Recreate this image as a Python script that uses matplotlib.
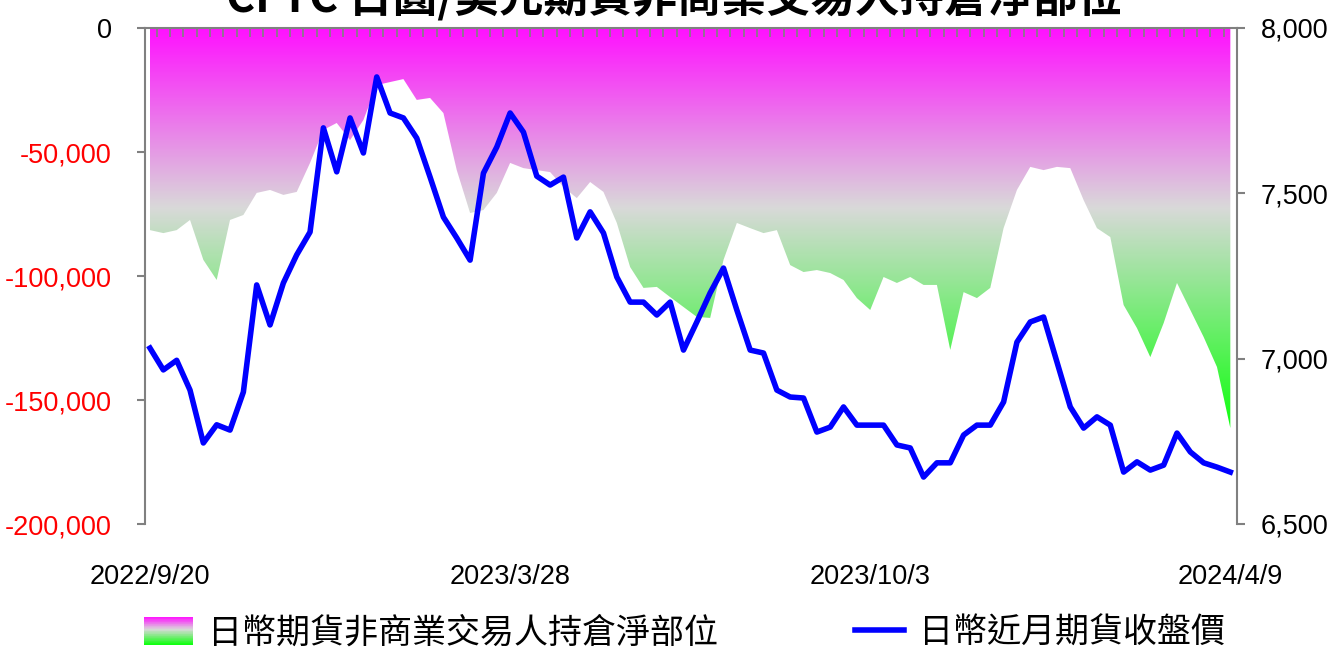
import numpy as np
import pandas as pd
import matplotlib
matplotlib.use("Agg")
import matplotlib.pyplot as plt
from matplotlib.colors import LinearSegmentedColormap
from matplotlib.lines import Line2D
from matplotlib.patches import Patch, Polygon, Rectangle
from matplotlib.legend_handler import HandlerBase

# weekly CFTC report dates, 2022/9/20 .. 2024/4/9
dates = pd.date_range("2022-09-20", periods=82, freq="7D")

# net non-commercial position (contracts)
net_position = [
    -81500, -82700, -81500, -77400, -93500, -101600, -77400, -75400, -66500, -65300,
    -67300, -66100, -54400, -41100, -38300, -45200, -37100, -23000, -21800, -20600,
    -29000, -28200, -34300, -57300, -74600, -73400, -66500, -54400, -56500, -57300,
    -58100, -64100, -68600, -62100, -66100, -78600, -96400, -104800, -104400, -108500,
    -112500, -116500, -116900, -93500, -78600, -80700, -82700, -81500, -95600, -98400,
    -97600, -98800, -101600, -108900, -113700, -100400, -102800, -100400, -103600, -103600,
    -129800, -106500, -108900, -104800, -80700, -65300, -56000, -57300, -56000, -56500,
    -69400, -80700, -84300, -111700, -121000, -132700, -119000, -102800, -113700, -124600,
    -136700, -161300,
]

# front-month yen futures close
price = [
    7032, 6966, 6995, 6905, 6745, 6800, 6784, 6899, 7223, 7102,
    7229, 7314, 7383, 7698, 7565, 7728, 7622, 7852, 7743, 7728,
    7667, 7549, 7428, 7365, 7298, 7561, 7640, 7743, 7685, 7552,
    7525, 7549, 7365, 7444, 7380, 7247, 7171, 7171, 7132, 7171,
    7026, 7111, 7199, 7274, 7147, 7026, 7017, 6905, 6884, 6881,
    6778, 6793, 6854, 6799, 6799, 6799, 6739, 6730, 6642, 6685,
    6685, 6769, 6799, 6799, 6869, 7050, 7111, 7126, 6990, 6854,
    6790, 6824, 6799, 6657, 6688, 6663, 6678, 6775, 6718, 6685,
    6672, 6657,
]

label_every = 27
left_ticks = [-200000, -150000, -100000, -50000, 0]
right_ticks = [6500, 7000, 7500, 8000]

TITLE = "CFTC 日圓/美元期貨非商業交易人持倉淨部位"
LEG_AREA = "日幣期貨非商業交易人持倉淨部位"
LEG_LINE = "日幣近月期貨收盤價"

CJK = ["Noto Sans CJK TC", "DejaVu Sans"]
NUM = ["Liberation Sans", "DejaVu Sans"]
NUM_SIZE = 19.5
GRAY = "#808080"

grad_cmap = LinearSegmentedColormap.from_list(
    "mag_green", [(0.0, "#FF10FF"), (0.45, "#D9D9D9"), (1.0, "#10FF10")]
)


class GradientPatchHandler(HandlerBase):
    def create_artists(self, legend, orig_handle, xdescent, ydescent,
                       width, height, fontsize, trans):
        n = 40
        arts = []
        for k in range(n):
            y0 = -ydescent + height * (1 - (k + 1) / n)
            arts.append(Rectangle((-xdescent, y0), width, height / n * 1.05,
                                  facecolor=grad_cmap(k / (n - 1)),
                                  edgecolor="none", transform=trans))
        return arts


fig = plt.figure(figsize=(13.3, 6.56), dpi=100)
ax = fig.add_axes([145 / 1330, 1 - 524 / 656, (1237 - 145) / 1330, (524 - 28) / 656])

x = np.arange(len(net_position))
net = np.array(net_position, dtype=float)

# gradient area clipped to the position polygon
verts = [(x[0], 0)] + list(zip(x, net)) + [(x[-1], 0)]
poly = Polygon(verts, closed=True, facecolor="none", edgecolor="none",
               transform=ax.transData)
ax.add_patch(poly)
grad = np.linspace(0, 1, 256).reshape(-1, 1)
im = ax.imshow(grad, extent=[x[0], x[-1], net.min(), 0], aspect="auto",
               cmap=grad_cmap, origin="upper", interpolation="bicubic", zorder=1)
im.set_clip_path(poly)

ax.set_xlim(-0.375, 81.5)
ax.set_ylim(-200000, 0)

# category axis: labels at bottom, tick marks along the top
major = list(range(0, len(dates), label_every))
ax.set_xticks(major)
ax.set_xticklabels([f"{d.year}/{d.month}/{d.day}" for d in dates[major]],
                   family=NUM, fontsize=NUM_SIZE)
ax.set_xticks(x[:-1] + 0.5, minor=True)
ax.tick_params(axis="x", which="major", bottom=True, top=False, length=0, pad=29)
ax.tick_params(axis="x", which="minor", bottom=False, top=True, direction="in",
               length=6.5, width=1.2, color=GRAY)

ax.set_yticks(left_ticks)
ax.set_yticklabels([f"{v:,}" for v in left_ticks], family=NUM, fontsize=NUM_SIZE)
for v, lab in zip(left_ticks, ax.get_yticklabels()):
    lab.set_color("black" if v == 0 else "#FF0000")
ax.tick_params(axis="y", direction="out", length=6, width=1.5, color=GRAY, pad=18)

for s in ("right", "bottom"):
    ax.spines[s].set_visible(False)
for s in ("left", "top"):
    ax.spines[s].set_color(GRAY)
    ax.spines[s].set_linewidth(1.5)

ax2 = ax.twinx()
ax2.plot(x, price, color="#0000FF", lw=4, zorder=3)
ax2.set_ylim(6500, 8000)
ax2.set_yticks(right_ticks)
ax2.set_yticklabels([f"{v:,}" for v in right_ticks], family=NUM, fontsize=NUM_SIZE)
ax2.tick_params(axis="y", direction="out", length=6, width=1.5, color=GRAY, pad=11)
for s in ("left", "top", "bottom"):
    ax2.spines[s].set_visible(False)
ax2.spines["right"].set_color(GRAY)
ax2.spines["right"].set_linewidth(1.5)

fig.text(0.507, 1 - 11 / 656, TITLE, ha="center", va="baseline",
         family=CJK, fontsize=32, fontweight="bold")

area_handle = Patch(facecolor="#D9D9D9")
line_handle = Line2D([], [], color="#0000FF", lw=4)
fig.legend([area_handle, line_handle], [LEG_AREA, LEG_LINE],
           handler_map={area_handle: GradientPatchHandler()},
           loc="center", bbox_to_anchor=(0.5147, 1 - 633 / 656), ncol=2,
           frameon=False, prop={"family": CJK, "size": 24.5},
           handlelength=1.45, handleheight=0.9, handletextpad=0.45,
           columnspacing=4.0, borderpad=0.1)

fig.savefig("out.png", dpi=100)
